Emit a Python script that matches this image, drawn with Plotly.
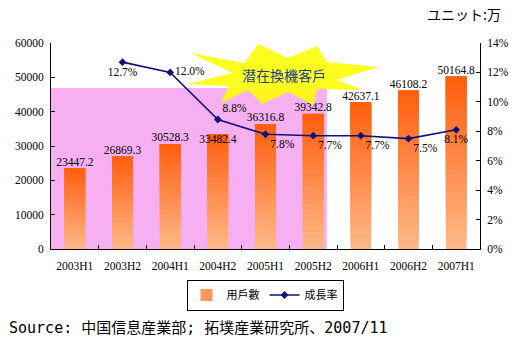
import math
import plotly.graph_objects as go

periods = ["2003H1", "2003H2", "2004H1", "2004H2", "2005H1", "2005H2", "2006H1", "2006H2", "2007H1"]
users = [23447.2, 26869.3, 30528.3, 33482.4, 36316.8, 39342.8, 42637.1, 46108.2, 50164.8]
growth = [None, 12.7, 12.0, 8.8, 7.8, 7.7, 7.7, 7.5, 8.1]
user_label_pos = ["top center"] * 3 + ["bottom center"] + ["top center"] * 5
growth_label_pos = ["bottom center", "bottom center", "middle right", "top right",
                    "bottom right", "bottom right", "bottom right", "bottom right", "bottom center"]

# pixel geometry of plot area
W, H = 521, 344
L, R, T, B = 51, 488, 43, 249
def px(x):
    return (x - L) / (R - L)
def py(y):
    return (B - y) / (B - T)

fig = go.Figure()

# gradient-like bars: overlaid bars from progressively higher bases up to each value
N = 24
top_c = (255, 96, 16)
bot_c = (253, 182, 134)
for k in range(N):
    f = k / (N - 1)
    c = tuple(round(bot_c[i] + (top_c[i] - bot_c[i]) * f) for i in range(3))
    col = "rgb(%d,%d,%d)" % c
    fig.add_trace(go.Bar(
        x=periods,
        y=[v * (1 - k / N) for v in users],
        base=[v * k / N for v in users],
        width=0.43,
        marker=dict(color=col, line=dict(width=0)),
        name="用戶數",
        legendgroup="users",
        showlegend=(k == N // 3),
        hoverinfo="skip",
        yaxis="y",
    ))

fig.add_trace(go.Scatter(
    x=periods, y=users, mode="text",
    text=["%.1f" % v for v in users],
    textposition=user_label_pos,
    textfont=dict(family="Liberation Serif", size=11.5, color="black"),
    showlegend=False, hoverinfo="skip", yaxis="y",
))

fig.add_trace(go.Scatter(
    x=periods, y=growth, mode="lines+markers+text",
    name="成長率",
    line=dict(color="#10107A", width=1.6),
    marker=dict(symbol="diamond", size=6, color="#10107A"),
    text=["" if g is None else "%.1f%%" % g for g in growth],
    textposition=growth_label_pos,
    textfont=dict(family="Liberation Serif", size=11.5, color="black"),
    yaxis="y2", connectgaps=False,
))

# star burst shape
tips = [
    (193, 53), (248, 63), (262, 44), (292, 58), (322, 46), (332, 62),
    (384, 67), (342, 80), (368, 90), (322, 89), (318, 105), (293, 92),
    (266, 104), (252, 90), (224, 103), (232, 86), (190, 84), (236, 73),
]
path = "M " + " L ".join("%.4f,%.4f" % (px(x), py(y)) for x, y in tips) + " Z"

shapes = [
    dict(type="rect", xref="paper", yref="paper", x0=0, x1=px(332), y0=0, y1=py(88),
         fillcolor="#F6B0F1", line=dict(width=0), layer="below"),
    dict(type="path", xref="paper", yref="paper", path=path,
         fillcolor="rgba(255,255,0,0.88)", line=dict(width=0), layer="above"),
]

annotations = [
    dict(text="潜在換機客戶", xref="paper", yref="paper", x=px(288), y=py(75),
         xanchor="center", yanchor="middle",
         showarrow=False, font=dict(family="Noto Sans CJK JP", size=14, color="#1E3C96")),
    dict(text="ユニット:万", xref="paper", yref="paper", x=px(511), y=py(14),
         xanchor="right", yanchor="middle", showarrow=False,
         font=dict(family="Noto Sans CJK JP", size=14, color="black")),
    dict(text="Source: 中国信息産業部; 拓墣産業研究所、2007/11", xref="paper", yref="paper",
         x=px(6), y=py(328), xanchor="left", yanchor="middle", showarrow=False,
         font=dict(family="DejaVu Sans Mono, Noto Sans CJK JP", size=15, color="black")),
]

tickfont = dict(family="Liberation Serif", size=11.5, color="black")
fig.update_layout(
    width=W, height=H, autosize=False,
    margin=dict(l=L, r=W - R, t=T, b=H - B, pad=0),
    paper_bgcolor="white", plot_bgcolor="rgba(0,0,0,0)",
    barmode="overlay",
    shapes=shapes, annotations=annotations,
    xaxis=dict(type="category", showline=True, linecolor="black", linewidth=1,
               ticks="inside", ticklen=4, tickcolor="black", tickson="boundaries",
               showgrid=False, tickfont=tickfont, ticklabelstandoff=6,
               range=[-0.5, 8.5]),
    yaxis=dict(range=[0, 60000], dtick=10000, showline=True, linecolor="black",
               linewidth=1, ticks="inside", ticklen=4, tickcolor="black",
               showgrid=False, zeroline=False, tickfont=tickfont, tickformat="d",
               ticklabelstandoff=4),
    yaxis2=dict(range=[0, 14], dtick=2, overlaying="y", side="right", ticksuffix="%",
                showline=True, linecolor="black", linewidth=1, ticks="inside",
                ticklen=4, tickcolor="black", showgrid=False, zeroline=False,
                tickfont=tickfont, ticklabelstandoff=4),
    legend=dict(orientation="h", x=px(269), y=py(295), xanchor="center", yanchor="middle",
                bordercolor="black", borderwidth=1, bgcolor="white",
                font=dict(family="Noto Sans CJK JP", size=11, color="black"),
                itemwidth=30, tracegroupgap=0),
    hovermode=False,
)

fig.write_html("out.html")
